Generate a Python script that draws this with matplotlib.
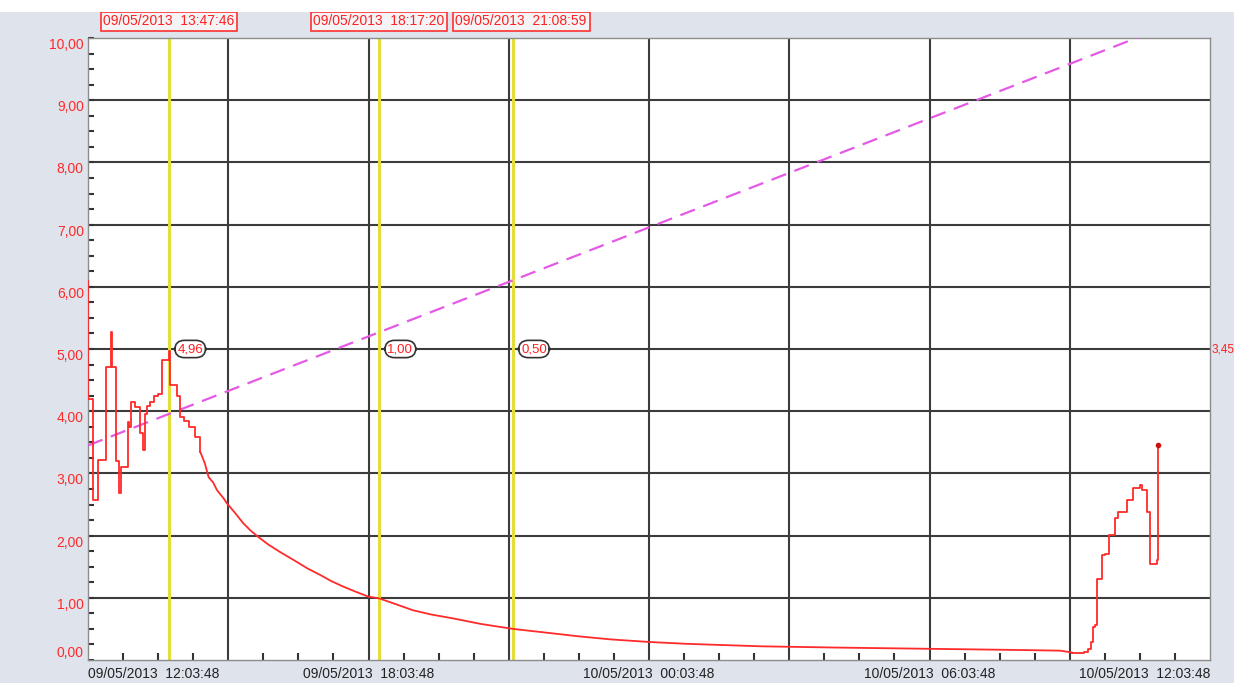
"""
Trend chart export: measured value with three cursors (09/05 - 10/05/2013)
"""

import pandas as pd
import matplotlib
matplotlib.use("Agg")
import matplotlib.pyplot as plt
from matplotlib.ticker import FixedLocator, MultipleLocator
from matplotlib.patches import Rectangle

plt.rcParams['font.family'] = ['Liberation Sans', 'DejaVu Sans']

# ======================================================
# 1. Data (hours after the window start)
# ======================================================
START = pd.Timestamp("2013-05-09 12:03:48")
SPAN_H = 24

hours = [0.00, 0.01, 0.11, 0.22, 0.38, 0.49, 0.52, 0.60, 0.66, 0.70,
         0.85, 0.88, 0.93, 1.00, 1.11, 1.17, 1.22, 1.26, 1.33, 1.41,
         1.50, 1.58, 1.72, 1.73, 1.76, 1.90, 1.97, 2.05, 2.15, 2.29,
         2.40, 2.50, 2.58, 2.68, 2.76, 2.90, 2.97, 3.05, 3.15, 3.32,
         3.48, 3.64, 3.85, 4.10, 4.28, 4.46, 4.70, 4.96, 5.20, 5.46,
         5.72, 5.99, 6.23, 6.50, 6.95, 7.35, 7.80, 8.40, 9.09, 9.80,
         10.50, 11.20, 12.00, 12.80, 13.60, 14.40, 15.20, 16.00, 17.00, 18.00,
         19.00, 20.00, 20.80, 21.05, 21.30, 21.40, 21.45, 21.50, 21.55, 21.58,
         21.68, 21.75, 21.85, 21.97, 22.04, 22.22, 22.36, 22.50, 22.55, 22.65,
         22.72, 22.86, 22.88]
values = [6.10, 4.20, 2.57, 3.21, 4.71, 5.27, 4.71, 3.20, 2.68, 3.10,
          3.83, 3.75, 4.15, 4.07, 3.65, 3.37, 3.95, 4.09, 4.15, 4.24,
          4.28, 4.82, 4.82, 4.96, 4.42, 4.24, 3.91, 3.85, 3.75, 3.59,
          3.35, 3.16, 2.94, 2.85, 2.73, 2.60, 2.52, 2.45, 2.36, 2.20,
          2.08, 1.98, 1.86, 1.74, 1.66, 1.58, 1.47, 1.37, 1.27, 1.18,
          1.10, 1.02, 0.99, 0.92, 0.80, 0.73, 0.67, 0.58, 0.50, 0.44,
          0.38, 0.33, 0.29, 0.26, 0.24, 0.22, 0.21, 0.20, 0.19, 0.18,
          0.17, 0.16, 0.15, 0.12, 0.13, 0.18, 0.29, 0.53, 0.57, 1.31,
          1.69, 1.71, 2.01, 2.28, 2.38, 2.58, 2.76, 2.81, 2.73, 2.38,
          1.55, 1.60, 3.45]

# slow decay between these hours is drawn as a plain line, the rest as steps
decay_from, decay_to = 2.40, 21.05

cursor_times = ["2013-05-09 13:47:46", "2013-05-09 18:17:20", "2013-05-09 21:08:59"]
cursor_values = [4.96, 1.00, 0.50]
last_value = 3.45

trend_hours = [0, 24]
trend_values = [3.45, 10.46]

y_ticks = list(range(0, 11))
x_grid_hours = list(range(0, 25, 3))

cursor_hours = [(pd.Timestamp(t) - START).total_seconds() / 3600 for t in cursor_times]

# ======================================================
# 2. Figure
# ======================================================
fig = plt.figure(figsize=(12.34, 6.83), dpi=100, facecolor="#dfe4ec")
fig.patches.append(Rectangle((0, 1 - 12 / 683), 1, 12 / 683, transform=fig.transFigure,
                             facecolor="white", edgecolor="none", zorder=0))
ax = fig.add_axes([88 / 1234, 1 - 660 / 683, 1122 / 1234, 622 / 683])
ax.set_facecolor("white")

ax.set_xlim(0, SPAN_H)
ax.set_ylim(0, 10)

# grid
for yv in y_ticks[1:-1]:
    ax.axhline(yv, color="#3c3c3c", lw=1.5, zorder=1)
for xv in x_grid_hours[1:-1]:
    ax.axvline(xv, color="#3c3c3c", lw=1.5, zorder=1)

# cursors
for ch in cursor_hours:
    ax.axvline(ch, color="#e4de3a", lw=2.2, zorder=2)

# trend line
ax.plot(trend_hours, trend_values, color="#e45ae4", lw=1.6, dashes=(7, 4), zorder=3)

# measured value
i0 = hours.index(decay_from)
i1 = hours.index(decay_to)
red = "#ff2a2a"
ax.plot(hours[:i0 + 1], values[:i0 + 1], color=red, lw=1.3, drawstyle="steps-post", zorder=4)
ax.plot(hours[i0:i1 + 1], values[i0:i1 + 1], color=red, lw=1.3, zorder=4)
ax.plot(hours[i1:], values[i1:], color=red, lw=1.3, drawstyle="steps-post", zorder=4)
ax.plot(hours[-1], values[-1], "o", color="#d01010", ms=3, zorder=5)

# ======================================================
# 3. Axes styling
# ======================================================
for s in ax.spines.values():
    s.set_color("#8c8c8c")
    s.set_linewidth(1.0)

ax.yaxis.set_major_locator(FixedLocator(y_ticks))
ax.yaxis.set_minor_locator(MultipleLocator(0.25))
ax.set_yticklabels([f"{v:.2f}".replace(".", ",") for v in y_ticks])
ax.tick_params(axis="y", which="major", length=4, width=1.5, direction="in",
               colors="#333333", labelcolor="#ff2a2a", labelsize=10, pad=3)
ax.tick_params(axis="y", which="minor", length=4, width=1.5, direction="in", color="#333333")
for lbl, v in zip(ax.get_yticklabels(), y_ticks):
    lbl.set_va("bottom" if v == 0 else "top")

x_labels = []
for h in x_grid_hours:
    if h % 6 == 0:
        x_labels.append(f"{START + pd.Timedelta(hours=h):%d/%m/%Y  %H:%M:%S}")
    else:
        x_labels.append("")
ax.xaxis.set_major_locator(FixedLocator(x_grid_hours))
ax.xaxis.set_minor_locator(MultipleLocator(0.75))
ax.set_xticklabels(x_labels)
ax.tick_params(axis="x", which="major", length=0, labelsize=10, labelcolor="#222222", pad=5)
ax.tick_params(axis="x", which="minor", length=5, width=1.5, direction="in", color="#333333")
xl = ax.get_xticklabels()
xl[0].set_ha("left")
xl[-1].set_ha("right")

# ======================================================
# 4. Cursor annotations
# ======================================================
offsets = [0, 0, 6]
for ch, off in zip(cursor_hours, offsets):
    stamp = (START + pd.Timedelta(hours=ch)).round("s")
    ax.annotate(f"{stamp:%d/%m/%Y  %H:%M:%S}", xy=(ch, 1), xycoords=("data", "axes fraction"),
                xytext=(off, 12), textcoords="offset points", ha="center", va="center",
                fontsize=10, color="#ff2020", annotation_clip=False,
                bbox=dict(boxstyle="square,pad=0.2", facecolor="#f4f4f6",
                          edgecolor="#ff3030", lw=1.2))

for ch, cv in zip(cursor_hours, cursor_values):
    ax.annotate(f"{cv:.2f}".replace(".", ","), xy=(ch, 5.0), xytext=(6, 0),
                textcoords="offset points", ha="left", va="center",
                fontsize=9.5, color="#ff2020", zorder=6,
                bbox=dict(boxstyle="round,pad=0.2,rounding_size=0.75",
                          facecolor="white", edgecolor="#333333", lw=1.2))

ax.text(1.001, 5.0, f"{last_value:.2f}".replace(".", ","), transform=ax.get_yaxis_transform(),
        ha="left", va="center", fontsize=8.5, color="#ff2020", clip_on=False)

fig.savefig("out.png", dpi=100, facecolor=fig.get_facecolor())
